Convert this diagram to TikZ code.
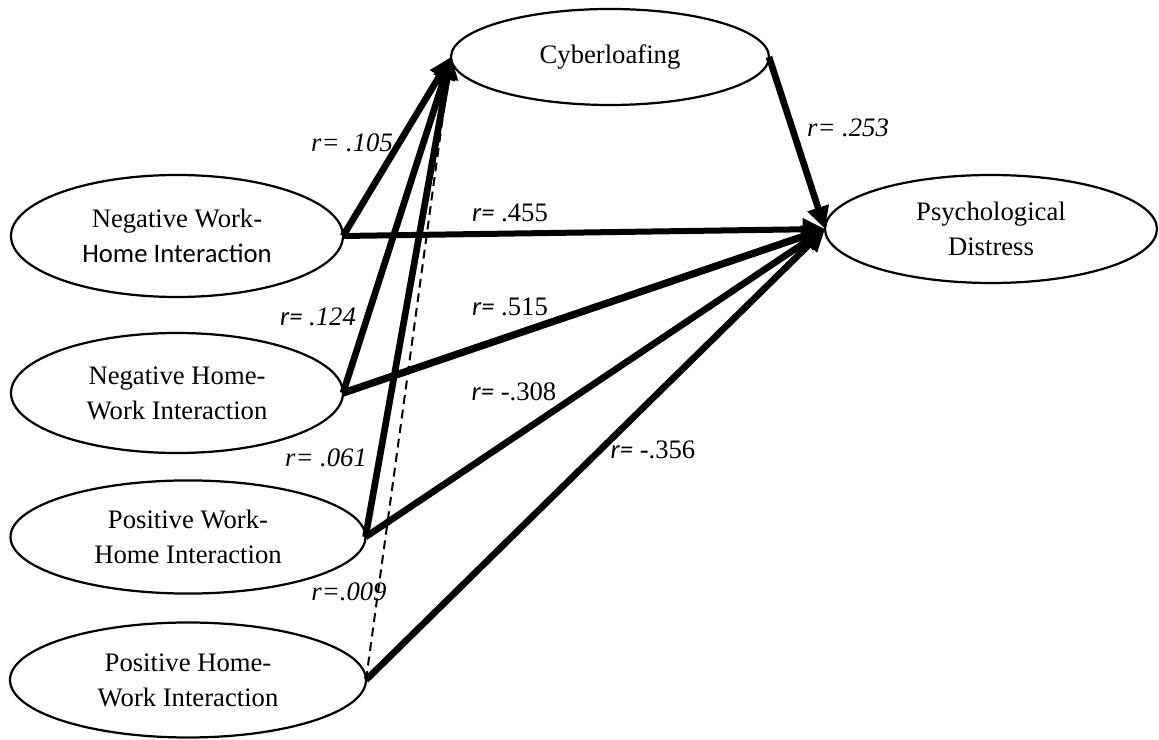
\documentclass[tikz,border=0pt]{standalone}
\usepackage{fontspec}
\setmainfont{Liberation Serif}
\setsansfont{Carlito}
\usetikzlibrary{positioning, shapes.geometric, arrows.meta}

\newcommand{\rsans}{{\sffamily\itshape r=}}

\begin{document}
\begin{tikzpicture}[
    x=0.45pt, y=-0.45pt,
    every node/.style = {inner sep=0pt, outer sep=0pt},
    var/.style 2 args = {draw, ellipse, line width=1pt, align=center,
        minimum width=#1, minimum height=#2,
        font=\fontsize{12}{15.75}\selectfont},
    link/.style = {line width=3pt, -{Triangle[length=10pt, width=9.5pt]}},
    weaklink/.style = {line width=0.9pt, dash pattern=on 4pt off 2.6pt},
    coef/.style = {font=\fontsize{12}{14}\selectfont}
]
    \useasboundingbox (0,0) rectangle (1159,740);

    % constructs
    \node [var={143.1pt}{43.2pt}] (cyber) at (610,57) {Cyberloafing};
    \node [var={149.4pt}{48.6pt}] (distress) at (991,229) {Psychological\\Distress};
    \node [var={149.4pt}{54.9pt}] (nwh) at (177,236) {Negative Work-\\{\sffamily Home Interaction}};
    \node [var={149.4pt}{54pt}] (nhw) at (177,393) {Negative Home-\\Work Interaction};
    \node [var={159.75pt}{50.9pt}] (pwh) at (188,537) {Positive Work-\\Home Interaction};
    \node [var={160.2pt}{51.75pt}] (phw) at (188,680) {Positive Home-\\Work Interaction};

    % paths to cyberloafing
    \draw [link] (nwh.east) -- (cyber.west);
    \draw [link] (nhw.east) -- (cyber.west);
    \draw [link] (pwh.east) -- (cyber.west);
    \draw [weaklink] (phw.east) -- (cyber.west);

    % paths to distress
    \draw [link, line width=2.7pt] (nwh.east) -- (distress.west);
    \draw [link, line width=3.3pt] (nhw.east) -- (distress.west);
    \draw [link] (pwh.east) -- (distress.west);
    \draw [link] (phw.east) -- (distress.west);
    \draw [link] (cyber.east) -- (distress.west);

    % coefficients
    \node [coef] (r105) at (352,143) {\itshape r= .105};
    \node [coef] (r124) at (318,317) {\rsans\ \itshape .124};
    \node [coef] (r061) at (326,458) {\itshape r= .061};
    \node [coef] (r009) at (349,592) {\itshape r=.009};
    \node [coef] (r455) at (510,213) {\rsans\ .455};
    \node [coef] (r515) at (510,307) {\rsans\ .515};
    \node [coef] (r308) at (514,392) {\rsans\ -.308};
    \node [coef] (r356) at (653,450) {\rsans\ -.356};
    \node [coef] (r253) at (848,128) {\itshape r= .253};
\end{tikzpicture}
\end{document}
